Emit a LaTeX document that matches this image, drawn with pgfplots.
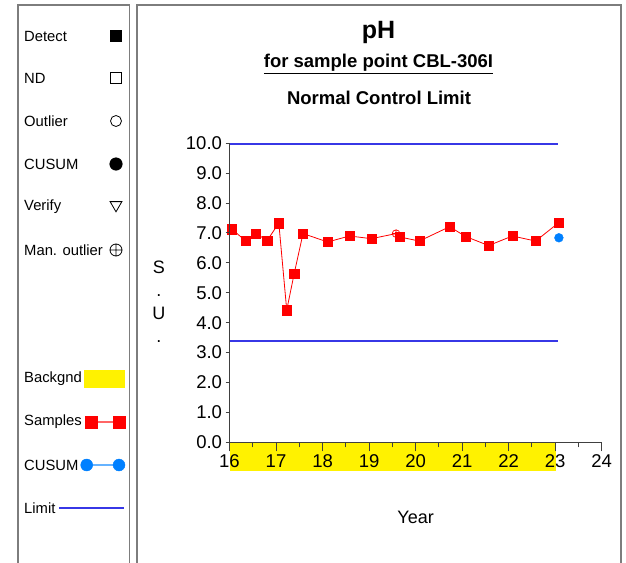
\documentclass[border=0pt]{standalone}
\usepackage{fontspec}
\setmainfont{Liberation Sans}
\usepackage{pgfplots}
\pgfplotsset{compat=1.18}
\definecolor{limitblue}{RGB}{55,55,230}
\definecolor{cusumblue}{RGB}{0,128,255}
\definecolor{boxgray}{RGB}{125,125,125}
\pgfplotsset{databox/.style={at={(229.5pt,119.7pt)}, anchor=south west, scale only axis,
  width=372.2pt, height=299pt, xmin=16, xmax=24, ymin=0, ymax=10}}
\begin{document}
\begin{tikzpicture}
% ---- data axis ----
\begin{axis}[databox, clip=false, axis on top,
  axis lines=left, axis line style={-, draw=black!75, line width=1pt},
  xtick={16,...,24}, minor xtick={16.5,17.5,...,23.5},
  ytick=\empty,
  tick align=outside, major tick length=9pt, minor tick length=5pt,
  tick style={draw=black!75, line width=1pt},
  /pgf/number format/assume math mode=true,
  xticklabel style={font=\fontsize{18.5}{22}\selectfont},
  xlabel={Year}, xlabel style={font=\fontsize{18}{22}\selectfont, at={(axis description cs:0.5,-0.25)}, anchor=center},
  ylabel={S\\.\\U\\.}, ylabel style={rotate=-90, align=center, font=\fontsize{18}{22.8}\selectfont, at={(axis description cs:-0.19,0.47)}, anchor=center},
]
% background band
\addplot[fill=yellow, draw=none] coordinates {(16,0) (23.02,0) (23.02,-0.95) (16,-0.95)} -- cycle;
% limits
\addplot[limitblue, line width=1.4pt] coordinates {(16,9.97) (23.07,9.97)};
\addplot[limitblue, line width=1.4pt] coordinates {(16,3.39) (23.07,3.39)};
% samples line
\addplot[red, line width=0.8pt] coordinates {
(16.05,7.13) (16.35,6.73) (16.57,6.98) (16.81,6.75) (17.06,7.33) (17.23,4.42)
(17.39,5.64) (17.58,6.98) (18.11,6.70) (18.58,6.90) (19.05,6.81) (19.58,6.98)
(19.65,6.87) (20.08,6.73) (20.73,7.21) (21.08,6.88) (21.57,6.58) (22.08,6.90)
(22.58,6.73) (23.08,7.35)};
\addplot[only marks, mark=square*, mark size=4.6pt, red] coordinates {
(16.05,7.13) (16.35,6.73) (16.57,6.98) (16.81,6.75) (17.06,7.33) (17.23,4.42)
(17.39,5.64) (17.58,6.98) (18.11,6.70) (18.58,6.90) (19.05,6.81)
(19.65,6.87) (20.08,6.73) (20.73,7.21) (21.08,6.88) (21.57,6.58) (22.08,6.90)
(22.58,6.73) (23.08,7.35)};
\addplot[only marks, mark=oplus, mark size=3.8pt, red, mark options={line width=0.7pt}] coordinates {(19.58,6.98)};
\addplot[only marks, mark=*, mark size=4.4pt, cusumblue] coordinates {(23.08,6.84)};
\end{axis}
% ---- y ticks (shorter) ----
\begin{axis}[databox, axis x line=none, axis y line*=left,
  axis line style={-, draw=black!75, line width=1pt},
  ytick={0,1,...,10}, tick align=outside, major tick length=4pt,
  tick style={draw=black!75, line width=1pt},
  /pgf/number format/assume math mode=true,
  yticklabel style={font=\fontsize{18.5}{22}\selectfont, /pgf/number format/.cd, fixed, fixed zerofill, precision=1}]
\end{axis}
% ---- frame, titles and key (pixel coordinates) ----
\begin{axis}[at={(0pt,0pt)}, anchor=south west, scale only axis,
  width=626pt, height=562pt, xmin=0, xmax=626, ymin=0, ymax=562,
  y dir=reverse, axis lines=none, clip=false]
\draw[boxgray, line width=1.8pt] (axis cs:18.3,600) -- (axis cs:18.3,5.3) -- (axis cs:129.5,5.3) -- (axis cs:129.5,600);
\draw[boxgray, line width=1.8pt] (axis cs:136.7,600) -- (axis cs:136.7,5.3) -- (axis cs:620.7,5.3) -- (axis cs:620.7,600);
\node[font=\fontsize{25}{28}\selectfont\bfseries] at (axis cs:378.5,32) {pH};
\node[font=\fontsize{18.5}{22}\selectfont\bfseries] at (axis cs:378.5,64) {\underline{for sample point CBL-306I}};
\node[font=\fontsize{18.5}{22}\selectfont\bfseries] at (axis cs:379,98) {Normal Control Limit};
% key texts
\begin{scope}[every node/.style={anchor=west, inner sep=0pt, font=\fontsize{14.8}{17}\selectfont}]
\node at (axis cs:24,36) {Detect};
\node at (axis cs:24,78) {ND};
\node at (axis cs:24,121) {Outlier};
\node at (axis cs:24,164) {CUSUM};
\node at (axis cs:24,207) {Verify};
\node at (axis cs:24,250) {Man. outlier};
\node at (axis cs:24,379) {Backgnd};
\node at (axis cs:24,422) {Samples};
\node at (axis cs:24,465) {CUSUM};
\node at (axis cs:24,508) {Limit};
\end{scope}
% key symbols
\addplot[only marks, mark=square*, mark size=5.6pt, black] coordinates {(116,36)};
\addplot[only marks, mark=square, mark size=5.2pt, black, mark options={line width=0.8pt}] coordinates {(116,78)};
\addplot[only marks, mark=o, mark size=5.5pt, black, mark options={line width=0.8pt}] coordinates {(116,121)};
\addplot[only marks, mark=*, mark size=6.3pt, black] coordinates {(116,164)};
\addplot[only marks, mark=triangle, mark size=6.8pt, black, mark options={rotate=180, line width=0.8pt}] coordinates {(116,205)};
\addplot[only marks, mark=oplus, mark size=6pt, black, mark options={line width=0.8pt}] coordinates {(116,250)};
\addplot[fill=yellow, draw=none] coordinates {(84,370) (125,370) (125,388) (84,388)} -- cycle;
\addplot[red!60, line width=1.2pt] coordinates {(90.7,422) (119,422)};
\addplot[only marks, mark=square*, mark size=6pt, red] coordinates {(90.7,422) (119,422)};
\addplot[cusumblue!60, line width=1.2pt] coordinates {(86.7,465) (119,465)};
\addplot[only marks, mark=*, mark size=6pt, cusumblue] coordinates {(86.7,465) (119,465)};
\addplot[limitblue, line width=1.4pt] coordinates {(59,507.8) (124,507.8)};
\end{axis}
\pgfresetboundingbox
\path[use as bounding box] (0pt,0pt) rectangle (626pt,562pt);
\end{tikzpicture}
\end{document}
